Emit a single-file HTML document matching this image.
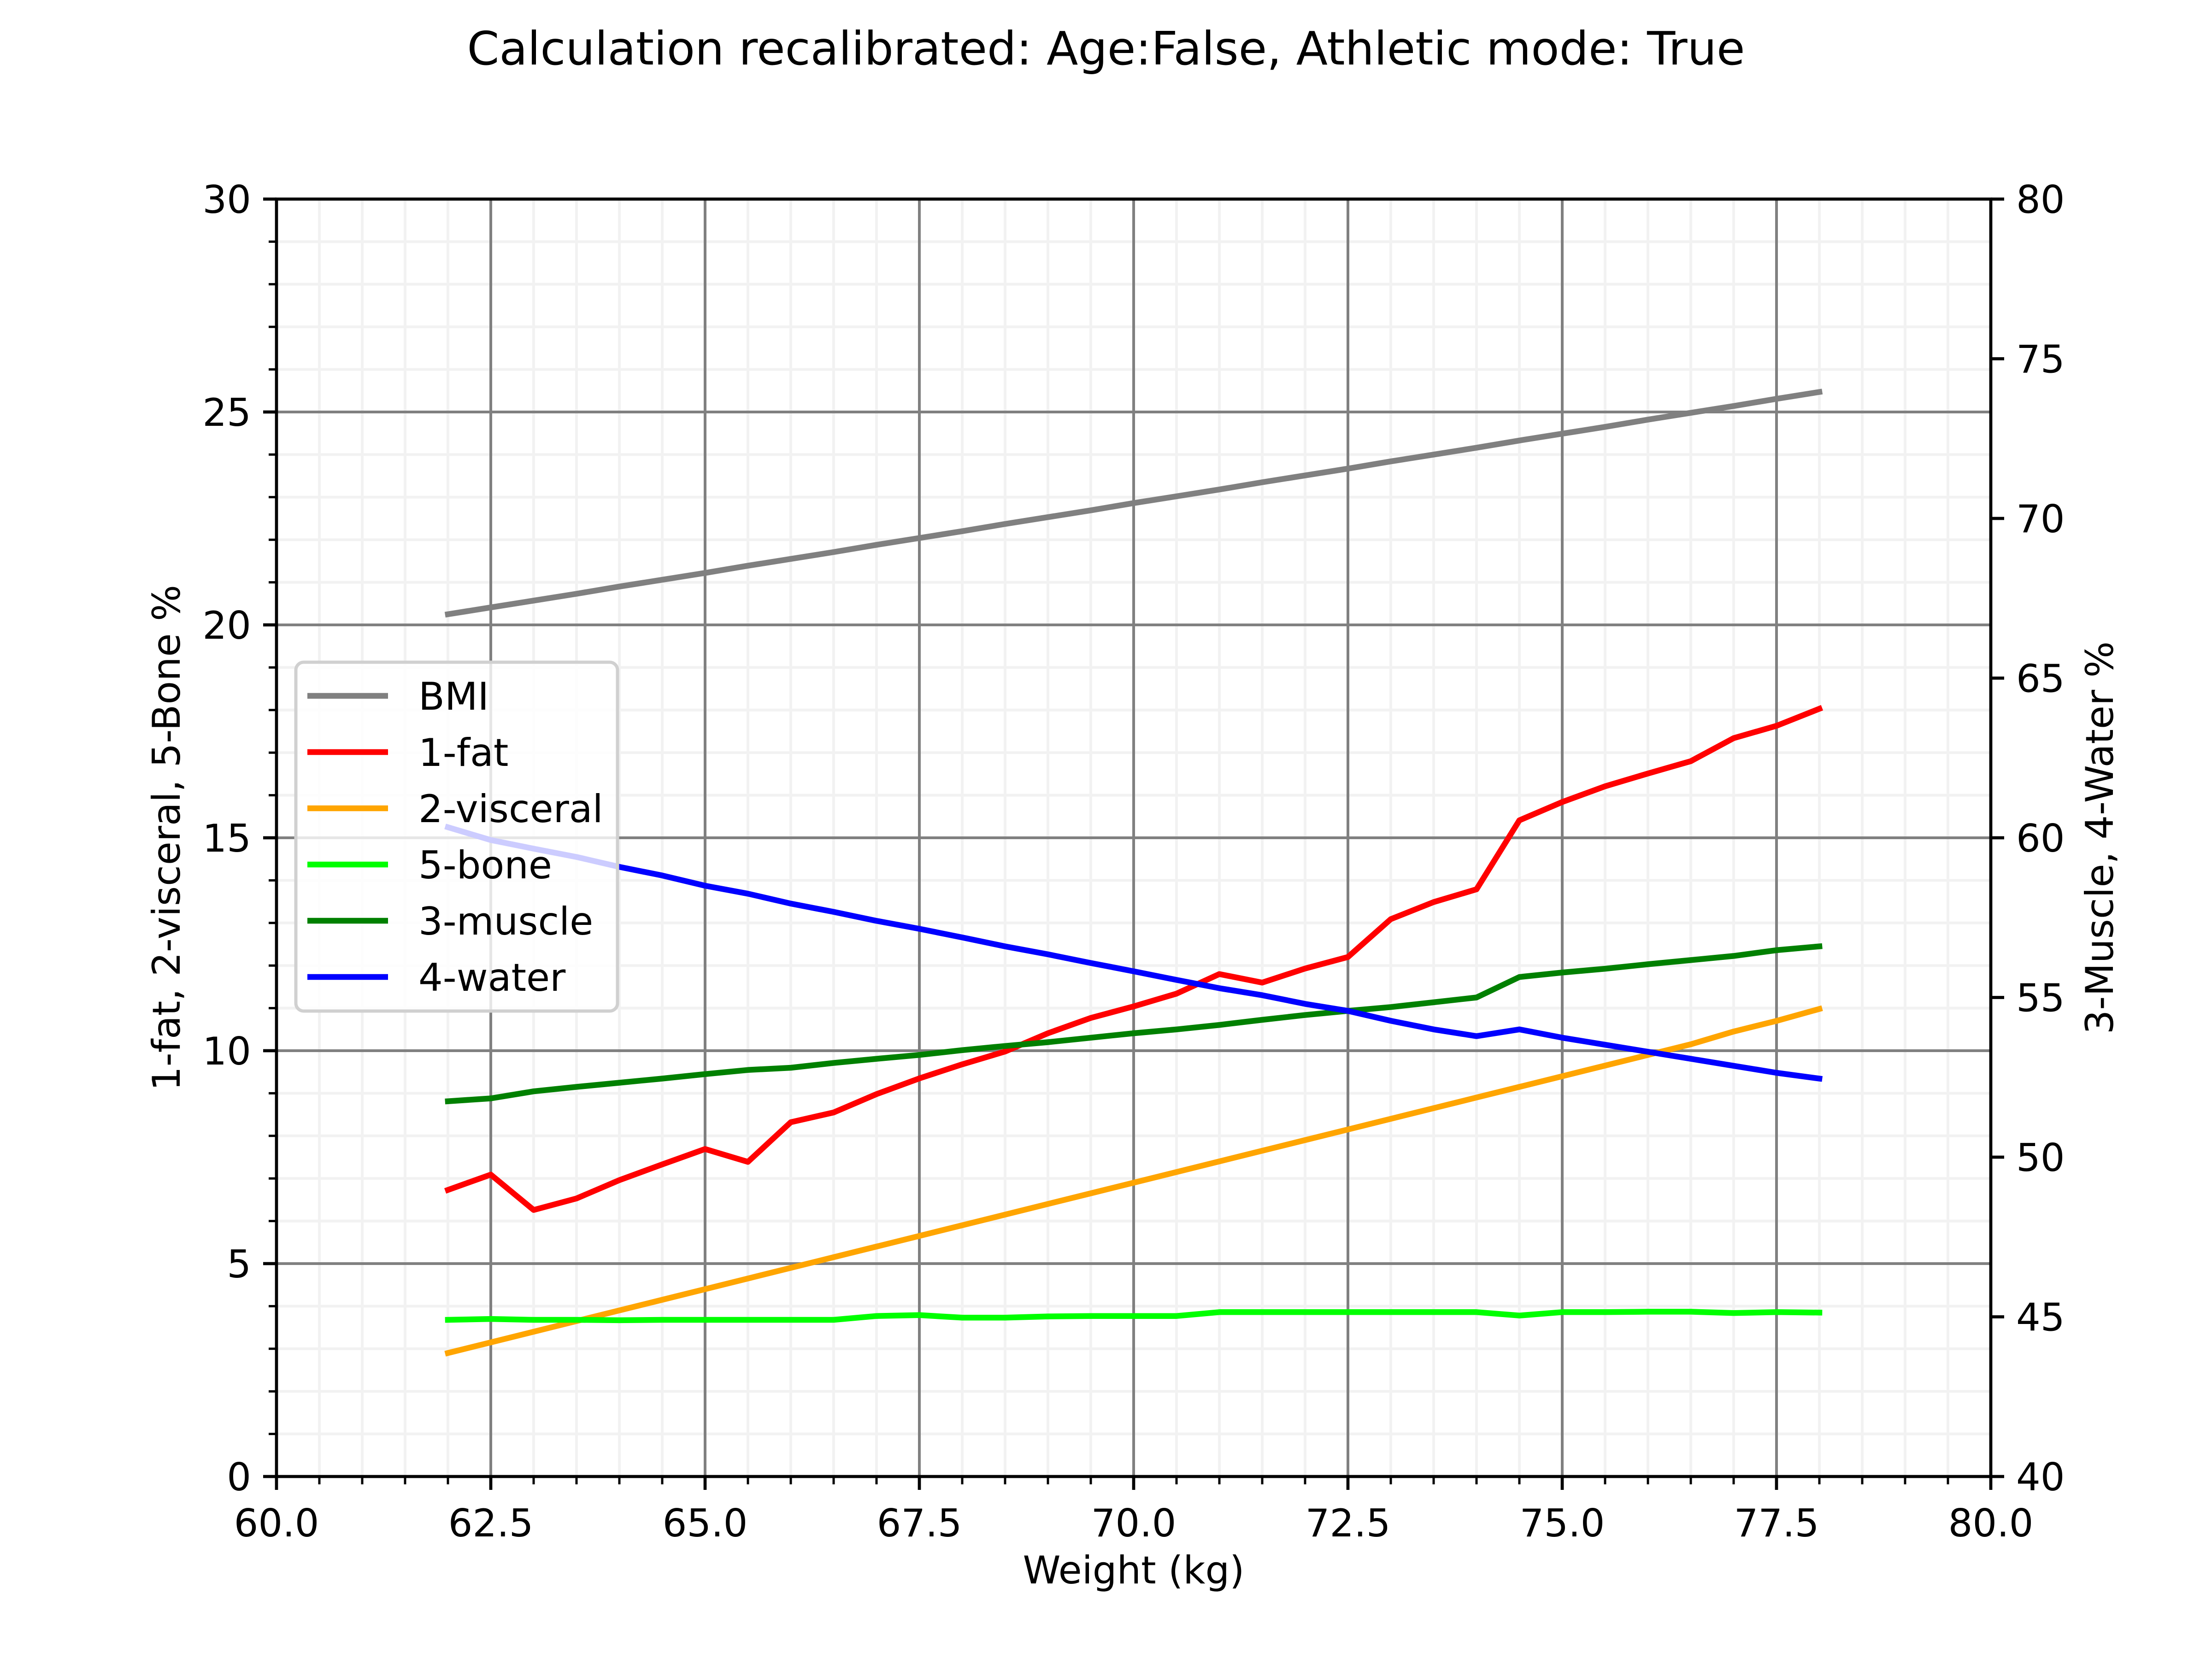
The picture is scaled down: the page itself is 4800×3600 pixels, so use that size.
<!DOCTYPE html>
<html><head><meta charset="utf-8"><style>
html,body{margin:0;padding:0;background:#fff;}
svg{display:block;}
text{font-family:"DejaVu Sans","Liberation Sans",sans-serif;fill:#000;}
</style></head><body>
<svg id="chart" width="4800" height="3600" viewBox="0 0 4800 3600" xmlns="http://www.w3.org/2000/svg">
<rect width="4800" height="3600" fill="#fff"/>
<text x="2400" y="140" font-size="100" text-anchor="middle">Calculation recalibrated: Age:False, Athletic mode: True</text>
<g id="grid"></g><g id="series"></g><g id="axes"></g><g id="legend"></g>
</svg>
<script>
const weights = [62,62.5,63,63.5,64,64.5,65,65.5,66,66.5,67,67.5,68,68.5,69,69.5,70,70.5,71,71.5,72,72.5,73,73.5,74,74.5,75,75.5,76,76.5,77,77.5,78];
const bmi = [20.25,20.41,20.57,20.73,20.90,21.06,21.22,21.39,21.55,21.71,21.88,22.04,22.20,22.37,22.53,22.69,22.86,23.02,23.18,23.35,23.51,23.67,23.84,24.00,24.16,24.33,24.49,24.65,24.82,24.98,25.14,25.31,25.47];
const fat = [6.73,7.09,6.26,6.53,6.96,7.33,7.69,7.39,8.32,8.55,8.98,9.35,9.68,9.98,10.41,10.77,11.04,11.34,11.80,11.60,11.93,12.20,13.09,13.49,13.79,15.41,15.84,16.21,16.51,16.80,17.34,17.63,18.03];
const visceral = [2.9,3.15,3.4,3.65,3.9,4.15,4.4,4.65,4.9,5.15,5.4,5.65,5.9,6.15,6.4,6.65,6.9,7.15,7.4,7.65,7.9,8.15,8.4,8.65,8.9,9.15,9.4,9.65,9.9,10.15,10.45,10.7,10.98];
const bone = [3.68,3.70,3.68,3.68,3.67,3.68,3.68,3.68,3.68,3.68,3.77,3.79,3.73,3.73,3.76,3.77,3.77,3.77,3.86,3.86,3.86,3.86,3.86,3.86,3.86,3.78,3.86,3.86,3.87,3.87,3.84,3.86,3.85];
const muscle = [51.75,51.84,52.06,52.2,52.33,52.46,52.6,52.73,52.8,52.95,53.08,53.2,53.35,53.48,53.6,53.74,53.88,54.0,54.14,54.3,54.45,54.58,54.7,54.85,55.0,55.64,55.78,55.9,56.04,56.17,56.3,56.48,56.6];
const water = [60.33,59.93,59.66,59.4,59.09,58.82,58.5,58.25,57.94,57.68,57.4,57.15,56.88,56.6,56.35,56.08,55.82,55.55,55.29,55.07,54.8,54.58,54.27,54.0,53.79,54.0,53.74,53.52,53.3,53.08,52.86,52.64,52.46];
const xTicks = ["60.0","62.5","65.0","67.5","70.0","72.5","75.0","77.5","80.0"];
const leftTicks = ["0","5","10","15","20","25","30"];
const rightTicks = ["40","45","50","55","60","65","70","75","80"];

const L=600,R=4320,T=432,B=3204;
const NS="http://www.w3.org/2000/svg";
const sx=v=>L+(v-60)/20*(R-L);
const syL=v=>B-v/30*(B-T);
const syR=v=>B-(v-40)/40*(B-T);
function mk(tag,attrs,parent){const e=document.createElementNS(NS,tag);for(const k in attrs)e.setAttribute(k,attrs[k]);parent.appendChild(e);return e;}
const grid=document.getElementById('grid'),axes=document.getElementById('axes'),series=document.getElementById('series'),legend=document.getElementById('legend');

for(let v=60;v<=80.001;v+=0.5){const x=sx(v);const g=mk('line',{x1:x,x2:x,y1:T,y2:B,stroke:'#f2f2f2','stroke-width':6},grid);

}
for(let v=0;v<=30;v+=1){const y=syL(v);const g=mk('line',{x1:L,x2:R,y1:y,y2:y,stroke:'#f2f2f2','stroke-width':6},grid);

}
xTicks.forEach(t=>{const x=sx(parseFloat(t));const g=mk('line',{x1:x,x2:x,y1:T,y2:B,stroke:'#808080','stroke-width':6},grid);

});
leftTicks.forEach(t=>{const y=syL(parseFloat(t));const g=mk('line',{x1:L,x2:R,y1:y,y2:y,stroke:'#808080','stroke-width':6},grid);

});

function plot(vals,sy,color,name){
 const pts=weights.map((w,i)=>sx(w).toFixed(1)+','+sy(vals[i]).toFixed(1)).join(' ');
 const p=mk('polyline',{points:pts,fill:'none',stroke:color,'stroke-width':12.5,'stroke-linejoin':'round','stroke-linecap':'square'},series);
 
 
}
plot(bmi,syL,'#808080','bmi-line');
plot(fat,syL,'#ff0000','fat-line');
plot(visceral,syL,'#ffa500','visceral-line');
plot(bone,syL,'#00ff00','bone-line');
plot(muscle,syR,'#008000','muscle-line');
plot(water,syR,'#0000ff','water-line');

const sp=mk('rect',{x:L,y:T,width:R-L,height:B-T,fill:'none',stroke:'#000','stroke-width':6.7},axes);


for(let v=60;v<=80.001;v+=0.5){const x=sx(v);mk('line',{x1:x,x2:x,y1:B,y2:B+17,stroke:'#000','stroke-width':5},axes);}
for(let v=0;v<=30;v+=1){const y=syL(v);mk('line',{x1:L-17,x2:L,y1:y,y2:y,stroke:'#000','stroke-width':5},axes);}
xTicks.forEach(t=>{const x=sx(parseFloat(t));mk('line',{x1:x,x2:x,y1:B,y2:B+29,stroke:'#000','stroke-width':6.7},axes);
 const tx=mk('text',{x:x,y:B+130,'font-size':83,'text-anchor':'middle'},axes);tx.textContent=t;
 
 });
leftTicks.forEach(t=>{const y=syL(parseFloat(t));mk('line',{x1:L-29,x2:L,y1:y,y2:y,stroke:'#000','stroke-width':6.7},axes);
 const tx=mk('text',{x:L-55,y:y+30,'font-size':83,'text-anchor':'end'},axes);tx.textContent=t;
 
 });
rightTicks.forEach(t=>{const y=syR(parseFloat(t));mk('line',{x1:R,x2:R+29,y1:y,y2:y,stroke:'#000','stroke-width':6.7},axes);
 const tx=mk('text',{x:R+55,y:y+30,'font-size':83,'text-anchor':'start'},axes);tx.textContent=t;
 
 });
const xl=mk('text',{x:(L+R)/2,y:3436,'font-size':83,'text-anchor':'middle'},axes);xl.textContent='Weight (kg)';


const yl=mk('text',{x:0,y:0,'font-size':83,'text-anchor':'middle',transform:'translate(390,1818) rotate(-90)'},axes);yl.textContent='1-fat, 2-visceral, 5-Bone %';


const yr=mk('text',{x:0,y:0,'font-size':83,'text-anchor':'middle',transform:'translate(4585,1818) rotate(-90)'},axes);yr.textContent='3-Muscle, 4-Water %';



const lb=mk('rect',{x:642,y:1437,width:698,height:757,rx:17,fill:'#fff','fill-opacity':0.8,stroke:'#d0d0d0','stroke-width':7},legend);


const legNames=['BMI','1-fat','2-visceral','5-bone','3-muscle','4-water'];
const legColors=['#808080','#ff0000','#ffa500','#00ff00','#008000','#0000ff'];
legNames.forEach((n,i)=>{const y=1510+i*122;
 const ln=mk('line',{x1:667,x2:842,y1:y,y2:y,stroke:legColors[i],'stroke-width':12.5},legend);
 
 
 const tx=mk('text',{x:908,y:y+30,'font-size':83},legend);tx.textContent=n;
 
 });
</script>
</body></html>
